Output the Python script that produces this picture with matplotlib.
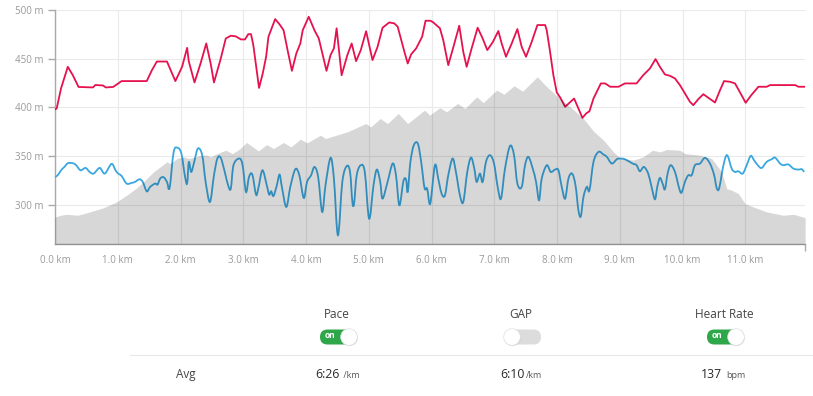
import numpy as np
import matplotlib
matplotlib.use("Agg")
import matplotlib.pyplot as plt
from matplotlib.patches import FancyBboxPatch, Circle, PathPatch
from matplotlib.path import Path

plt.rcParams['font.family'] = ['Open Sans', 'DejaVu Sans']

# heart rate line (red), plotted on the elevation scale
hr_km = [0.0, 0.027, 0.096, 0.204, 0.284, 0.375, 0.605, 0.643, 0.766, 0.809, 0.927, 1.061, 1.462, 1.543,
         1.623, 1.784, 1.918, 2.025, 2.105, 2.132, 2.223, 2.319, 2.41, 2.48, 2.533, 2.641, 2.721, 2.801,
         2.882, 2.962, 3.027, 3.08, 3.123, 3.16, 3.203, 3.251, 3.31, 3.364, 3.401, 3.508, 3.578, 3.642,
         3.711, 3.775, 3.845, 3.909, 3.947, 4.043, 4.134, 4.203, 4.326, 4.39, 4.444, 4.487, 4.567, 4.658,
         4.727, 4.797, 4.872, 4.957, 5.059, 5.139, 5.219, 5.326, 5.406, 5.46, 5.567, 5.62, 5.674, 5.754,
         5.85, 5.904, 5.984, 6.027, 6.133, 6.186, 6.266, 6.356, 6.441, 6.505, 6.559, 6.638, 6.734, 6.814,
         6.888, 6.973, 7.064, 7.117, 7.186, 7.277, 7.367, 7.436, 7.505, 7.596, 7.686, 7.809, 7.835, 7.888,
         7.941, 7.995, 8.059, 8.128, 8.197, 8.271, 8.34, 8.404, 8.463, 8.516, 8.58, 8.697, 8.766, 8.846,
         8.979, 9.08, 9.266, 9.372, 9.479, 9.569, 9.638, 9.718, 9.798, 9.878, 9.957, 10.037, 10.117,
         10.17, 10.25, 10.33, 10.426, 10.516, 10.596, 10.66, 10.755, 10.835, 10.915, 11.005, 11.085,
         11.207, 11.34, 11.394, 11.793, 11.846, 11.936]
hr_val = [398, 399, 419.5, 441.6, 433, 421, 420.5, 423, 422.5, 420.5, 421, 427, 427, 438,
          447, 447, 427, 441.6, 461, 447, 425.6, 445, 465.5, 445, 425.6, 450, 470.6, 473.4,
          472.7, 469.6, 469.6, 475, 475, 463.8, 443.3, 420, 434.8, 451.9, 472.4, 490.4, 485, 479,
          457, 437.5, 455.3, 465.5, 479, 492.8, 479, 470.6, 437.5, 453.6, 460.4, 481, 433, 453.6,
          465.5, 447.4, 458.7, 478, 448.5, 462, 481.6, 487, 486, 482.6, 457, 445, 454.3, 460.4,
          472.4, 488.7, 488.7, 487, 481, 469, 443.3, 463.8, 483.6, 457, 441.6, 460.4, 481.6, 470.6,
          458.7, 466.6, 478.2, 465.5, 451.9, 465.5, 480.2, 462, 451.9, 467.2, 484.3, 484.3, 479, 457,
          433, 415.4, 409.2, 400.7, 404.8, 409.2, 399, 389.4, 393.9, 396.2, 409.2, 424.6, 424.6, 421.2,
          421.2, 424.6, 424.6, 433, 439.9, 449.5, 441.6, 433.8, 432.4, 429.7, 422.9, 414.3, 405.8,
          402.4, 408.5, 413.6, 409.2, 405.1, 417.7, 427, 426.3, 424.6, 415.4, 404.8, 411.9,
          421.2, 421.2, 422.9, 422.9, 421.2, 421.2]

# pace line (blue)
pace_km = [0, 0.043, 0.096, 0.15, 0.204, 0.284, 0.337, 0.407, 0.487, 0.552, 0.616, 0.712, 0.793, 0.9,
           0.964, 1.007, 1.061, 1.141, 1.221, 1.275, 1.345, 1.398, 1.462, 1.516, 1.596, 1.634, 1.676,
           1.73, 1.784, 1.826, 1.891, 1.955, 2.014, 2.068, 2.105, 2.132, 2.169, 2.212, 2.276, 2.346, 2.4,
           2.469, 2.533, 2.587, 2.641, 2.705, 2.758, 2.801, 2.844, 2.935, 2.989, 3.043, 3.091, 3.144,
           3.203, 3.241, 3.305, 3.374, 3.412, 3.444, 3.481, 3.535, 3.578, 3.615, 3.685, 3.749, 3.829,
           3.893, 3.963, 4.016, 4.08, 4.134, 4.193, 4.257, 4.31, 4.39, 4.444, 4.508, 4.578, 4.647, 4.701,
           4.738, 4.765, 4.807, 4.872, 4.936, 5.005, 5.075, 5.128, 5.182, 5.219, 5.299, 5.38, 5.433,
           5.487, 5.551, 5.594, 5.62, 5.663, 5.717, 5.781, 5.834, 5.888, 5.93, 5.979, 6.053, 6.106, 6.16,
           6.213, 6.266, 6.335, 6.388, 6.452, 6.505, 6.569, 6.628, 6.681, 6.718, 6.771, 6.814, 6.867,
           6.931, 6.995, 7.053, 7.106, 7.17, 7.25, 7.314, 7.367, 7.436, 7.489, 7.543, 7.612, 7.665,
           7.713, 7.755, 7.835, 7.899, 7.968, 8.021, 8.074, 8.128, 8.181, 8.239, 8.293, 8.34, 8.378,
           8.42, 8.473, 8.516, 8.58, 8.66, 8.739, 8.793, 8.872, 8.952, 9.0, 9.08, 9.202, 9.266, 9.319,
           9.383, 9.452, 9.505, 9.559, 9.596, 9.638, 9.681, 9.718, 9.761, 9.809, 9.878, 9.947, 9.984,
           10.037, 10.09, 10.144, 10.197, 10.277, 10.356, 10.436, 10.5, 10.543, 10.58, 10.622, 10.676,
           10.718, 10.782, 10.835, 10.888, 10.957, 11.021, 11.085, 11.138, 11.207, 11.261, 11.34,
           11.42, 11.473, 11.553, 11.606, 11.686, 11.766, 11.846, 11.899, 11.936]
pace_val = [329, 330.7, 335.8, 339.2, 343, 343, 341, 335.8, 338.2, 334.1, 332.4, 338.2, 332.4, 342.3,
            335.8, 332.4, 330, 322.2, 322.9, 323.9, 326.6, 323.9, 314.3, 318.8, 322.2, 321.2, 327.3,
            328.7, 323.9, 317.7, 354.6, 358.7, 352.9, 330.7, 322.2, 344.4, 334.1, 342.7, 358, 351.2, 323.9,
            303.4, 330.7, 347.8, 348.5, 334.1, 320.5, 317, 341, 347.8, 341, 313.6, 329, 331.4,
            310.9, 317.7, 335.8, 320.5, 310.9, 314.3, 309.5, 320.5, 331.4, 318.8, 298.3, 318.8, 336.9,
            330.7, 307.5, 323.9, 330.7, 339.2, 329, 293.2, 320.5, 348.5, 327.3, 269.3, 323.9, 340, 334.1,
            303.4, 301.7, 330.7, 341, 334.1, 286.3, 320.5, 336.5, 323.9, 306.8, 323.9, 342.7, 330.7,
            300, 324.6, 326.3, 313.6, 344.4, 361.4, 363.1, 344.4, 317.7, 317, 301.7, 340.9, 327.3, 311.9,
            310.2, 330.7, 347.8, 334.1, 310.2, 303.4, 334.1, 348.8, 337.5, 323.9, 332.4, 323.9, 344.4,
            351.2, 342.7, 318.8, 306.8, 337.5, 360.7, 351.2, 322.2, 318.8, 341, 349.5, 337.5, 323.9,
            305.1, 327.3, 340.9, 334.1, 336.5, 335.8, 318.8, 306.8, 327.3, 332.4, 320.5, 294.9, 288.7,
            308.5, 318.8, 315.4, 344.4, 354.6, 351.9, 349.5, 342.7, 347.1, 347.8, 347.1, 342.7, 341, 334.8,
            339.2, 332.4, 318.8, 306.1, 318.8, 328, 322.2, 316.4, 332.4, 341, 334.1, 317, 313,
            323.9, 330.7, 330.7, 341, 342.7, 348.5, 342.7, 331.4, 317.7, 316.7, 331.4, 347.8,
            350.5, 337.5, 334.1, 334.8, 332.4, 341, 350.5, 346.1, 340.3, 338.2, 344.4,
            347.1, 348.8, 342.7, 341, 341.7, 337.5, 336.5, 336.9, 334.1]

# elevation profile (grey area)
elev_km = [0, 0.096, 0.177, 0.364, 0.552, 0.766, 0.98, 1.141, 1.302, 1.462, 1.569, 1.676, 1.784, 1.837,
           1.944, 2.051, 2.132, 2.239, 2.319, 2.426, 2.48, 2.587, 2.721, 2.828, 2.935, 3.053, 3.241,
           3.374, 3.481, 3.642, 3.759, 3.909, 4.016, 4.23, 4.31, 4.658, 4.952, 5.032, 5.182, 5.299,
           5.47, 5.62, 5.888, 5.968, 6.133, 6.239, 6.415, 6.532, 6.718, 6.824, 7.037, 7.154, 7.314,
           7.452, 7.686, 7.809, 7.995, 8.207, 8.42, 8.58, 8.739, 8.899, 9.0, 9.213, 9.372, 9.521,
           9.638, 9.745, 9.957, 10.037, 10.277, 10.463, 10.543, 10.622, 10.702, 10.782, 10.888,
           10.995, 11.128, 11.34, 11.606, 11.766, 11.952]
elev_val = [288, 289.8, 290.8, 289.8, 293.2, 297.3, 303.4, 310.2, 317.7, 327.3, 334.1, 339.2, 344.4, 342.7,
            347.8, 349.5, 347.8, 349.5, 351.2, 351.2, 349.5, 352.9, 356.3, 352.9, 357.3, 364.2, 355.6,
            362.1, 358, 364.2, 359.7, 367.6, 363.8, 371.7, 368.3, 375.1, 383.6, 380.2, 388.7, 383.6,
            393.9, 383.6, 397.3, 392.2, 399.7, 395.6, 404.1, 399, 410.9, 405.1, 417.7, 413.6, 422.2,
            416.7, 431.4, 422.9, 411.9, 400.7, 388.7, 375.8, 366.6, 354.6, 348.5, 346.1, 349.5, 356.3,
            354.6, 357, 356.3, 352.9, 351.2, 347.8, 341, 334.1, 317, 315.4, 312,
            301.7, 298.3, 293.2, 289.8, 290.8, 287.4]

x_ticks = list(range(0, 12))
y_ticks = [300, 350, 400, 450, 500]

columns = ["Pace", "GAP", "Heart Rate"]
toggled = [True, False, True]
avg_nums = ["6:26", "6:10", "137"]
avg_units = [" /km", "/km", "bpm"]


def smooth_path(xs, ys):
    # Catmull-Rom through the points, drawn as cubic Bezier segments
    p = np.column_stack([xs, ys]).astype(float)
    p = np.vstack([p[0], p, p[-1]])
    verts = [p[1]]
    codes = [Path.MOVETO]
    for i in range(1, len(p) - 2):
        c1 = p[i] + (p[i + 1] - p[i - 1]) / 6
        c2 = p[i + 1] - (p[i + 2] - p[i]) / 6
        verts += [c1, c2, p[i + 1]]
        codes += [Path.CURVE4] * 3
    return Path(verts, codes)


W, H = 813, 396
fig = plt.figure(figsize=(W / 100, H / 100), dpi=100)

x_max = 11.95
y_min, y_max = 260.4, 500
ax = fig.add_axes([55 / W, 1 - 244 / H, 750 / W, (244 - 9.7) / H])
ax.add_patch(PathPatch(smooth_path(pace_km, pace_val), fc='none', ec='#3aa8e0', lw=1.3, zorder=3))
ax.plot(hr_km, hr_val, color='#e5124f', lw=1.3, zorder=3)
ax.fill_between(elev_km, y_min - 10, elev_val, color='black', alpha=0.155, lw=0, zorder=4)

ax.set_xlim(0, x_max)
ax.set_ylim(y_min, y_max)
ax.set_xticks(x_ticks)
ax.set_xticklabels([f"{v:.1f} km" for v in x_ticks])
ax.set_yticks(y_ticks)
ax.set_yticklabels([f"{v} m" for v in y_ticks])
ax.set_xticks([0, x_max], minor=True)
ax.tick_params(axis='x', which='major', length=0, pad=8, labelsize=7, labelcolor='#999999')
ax.tick_params(axis='x', which='minor', length=5, color='#aaaaaa', width=1)
ax.tick_params(axis='y', length=5, color='#aaaaaa', width=1, pad=3, labelsize=7, labelcolor='#999999')
ax.grid(True, color='#eaeaea', lw=0.8, zorder=0)
ax.set_axisbelow(True)
for s in ['top', 'right']:
    ax.spines[s].set_visible(False)
for s in ['left', 'bottom']:
    ax.spines[s].set_color('#aaaaaa')
    ax.spines[s].set_linewidth(1)

# summary block below the chart, in pixel coordinates
ov = fig.add_axes([0, 0, 1, 1])
ov.set_xlim(0, W)
ov.set_ylim(H, 0)
ov.axis('off')
ov.patch.set_visible(False)

col_x = [337, 521, 724]
num_end = [340, 525, 722]
unit_start = [340.5, 525.5, 726]
for i, name in enumerate(columns):
    cx = col_x[i]
    ov.text(cx, 315, name, ha='center', va='center', fontsize=8.5, color='#444444')
    left = cx - 17
    pill = FancyBboxPatch((left, 329.5), 37, 15, boxstyle="round,pad=0,rounding_size=7.5",
                          fc='#2ea64a' if toggled[i] else '#dcdcdc', ec='none')
    ov.add_patch(pill)
    kx = left + 29 if toggled[i] else left + 8
    ov.add_patch(Circle((kx + 0.6, 337.8), 8.3, fc='#bbbbbb', ec='none', alpha=0.5))
    ov.add_patch(Circle((kx, 337), 8.3, fc='white', ec='#e0e0e0', lw=0.5))
    if toggled[i]:
        ov.text(left + 10, 335.5, "on", ha='center', va='center', fontsize=6,
                color='white', fontweight='bold')
    ov.text(num_end[i], 374.5, avg_nums[i], ha='right', va='center', fontsize=8.8, color='#2a2a2a')
    ov.text(unit_start[i], 375, avg_units[i], ha='left', va='center', fontsize=6.5, color='#555555')

ov.plot([130, W], [355.3, 355.3], color='#e8e8e8', lw=0.8)
ov.text(186, 374.5, "Avg", ha='center', va='center', fontsize=8.5, color='#444444')

fig.savefig("out.png", dpi=100)
